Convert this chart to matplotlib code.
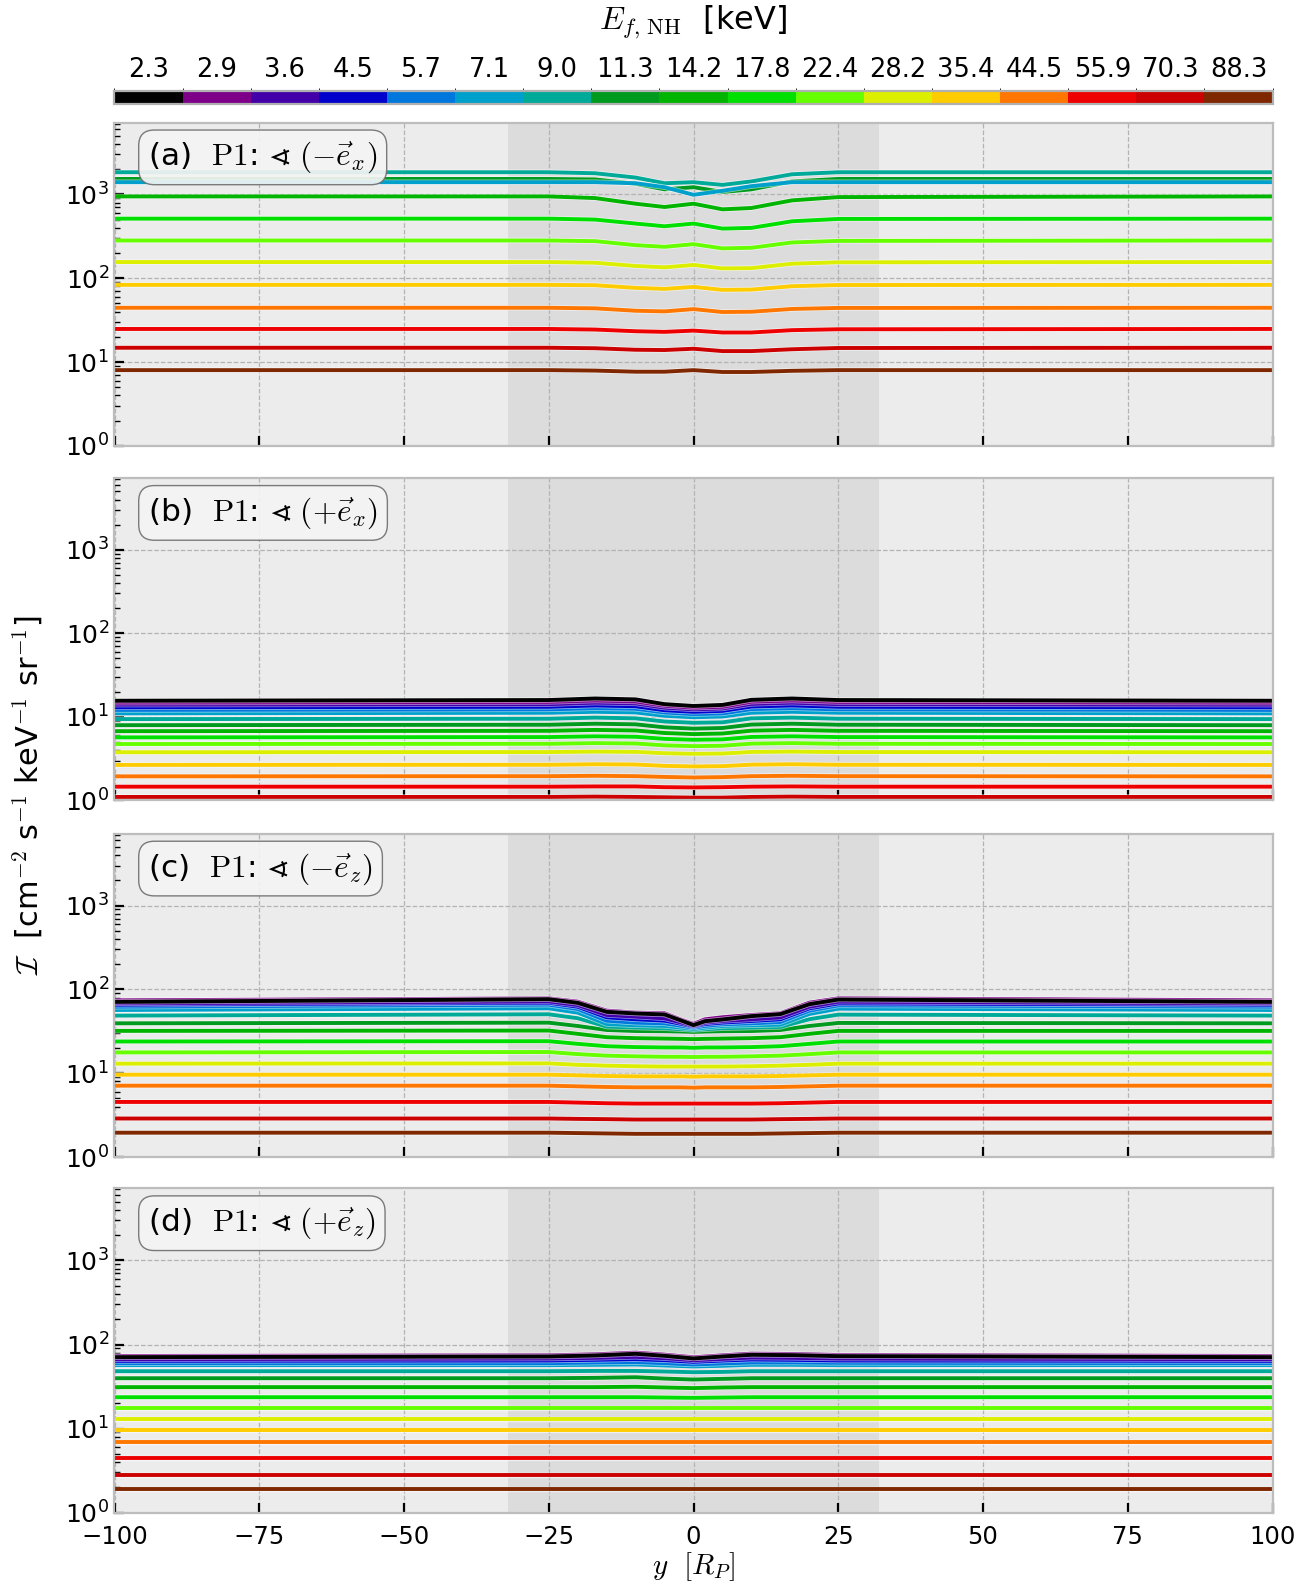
import numpy as np
import matplotlib
matplotlib.use("Agg")
import matplotlib.pyplot as plt
import matplotlib.patheffects as pe
from matplotlib.colors import ListedColormap, BoundaryNorm
from matplotlib.colorbar import ColorbarBase
from matplotlib.ticker import LogLocator, NullFormatter

# ---------------- data ----------------
ENERGIES = [2.3, 2.9, 3.6, 4.5, 5.7, 7.1, 9.0, 11.3, 14.2, 17.8,
            22.4, 28.2, 35.4, 44.5, 55.9, 70.3, 88.3]
COLORS = ["#000000", "#7e0089", "#4300a8", "#0000cc", "#0077dd", "#00a0cc",
          "#00aa99", "#009a1e", "#00b400", "#00e000", "#66ff00", "#dcef00",
          "#ffcc00", "#ff7700", "#ee0000", "#cc0000", "#7f2800"]
X_TICKS = [-100, -75, -50, -25, 0, 25, 50, 75, 100]
PANEL_LABELS = [r"(a)  $\mathrm{P1}$: $\sphericalangle\ (-\vec{e}_x)$",
                r"(b)  $\mathrm{P1}$: $\sphericalangle\ (+\vec{e}_x)$",
                r"(c)  $\mathrm{P1}$: $\sphericalangle\ (-\vec{e}_z)$",
                r"(d)  $\mathrm{P1}$: $\sphericalangle\ (+\vec{e}_z)$"]
NAN = float("nan")

Y_A = [-100, -25, -17, -10, -5, 0, 5, 10, 17, 25, 100]
I_A = [
    [NAN] * 11,
    [NAN] * 11,
    [NAN] * 11,
    [NAN] * 11,
    [NAN] * 11,
    [1400, 1400, 1400, 1360, 1220, 990, 1105, 1256, 1400, 1400, 1400],
    [1840, 1840, 1790, 1590, 1360, 1400, 1300, 1430, 1740, 1840, 1840],
    [1530, 1530, 1510, 1340, 1150, 1220, 1070, 1150, 1430, 1530, 1530],
    [947, 947, 905, 775, 708, 775, 664, 689, 849, 930, 947],
    [514, 514, 501, 449, 417, 449, 391, 399, 478, 510, 514],
    [282, 282, 277, 248, 237, 255, 227, 231, 267, 279, 282],
    [156, 156, 153, 140, 135, 144, 131, 132, 149, 155, 156],
    [83.3, 83.3, 82.5, 76.7, 74.6, 78.8, 72.6, 73.2, 80.3, 83.0, 83.3],
    [44.4, 44.4, 43.7, 40.9, 40.2, 42.8, 39.5, 39.8, 43.0, 44.2, 44.4],
    [24.8, 24.8, 24.4, 23.3, 22.9, 23.7, 22.5, 22.5, 24.0, 24.6, 24.8],
    [14.8, 14.8, 14.6, 14.0, 13.9, 14.4, 13.5, 13.5, 14.2, 14.7, 14.8],
    [8.0, 8.0, 7.9, 7.66, 7.66, 8.0, 7.6, 7.6, 7.85, 8.0, 8.0],
]

Y_B = [-100, -25, -17, -10, -5, 0, 5, 10, 17, 25, 100]
I_B = [
    [15.6, 15.9, 16.6, 16.2, 14.2, 13.5, 13.9, 16.0, 16.6, 15.9, 15.6],
    [14.8, 15.1, 15.7, 15.3, 13.6, 12.9, 13.2, 15.2, 15.7, 15.1, 14.8],
    [14.0, 14.2, 14.8, 14.5, 12.9, 12.3, 12.6, 14.3, 14.8, 14.2, 14.0],
    [13.0, 13.2, 13.7, 13.4, 12.0, 11.5, 11.8, 13.3, 13.7, 13.2, 13.0],
    [12.1, 12.3, 12.7, 12.5, 11.3, 10.8, 11.0, 12.4, 12.7, 12.3, 12.1],
    [11.0, 11.2, 11.5, 11.3, 10.3, 9.9, 10.1, 11.2, 11.5, 11.2, 11.0],
    [9.4, 9.5, 9.8, 9.6, 8.8, 8.5, 8.6, 9.6, 9.8, 9.5, 9.4],
    [7.95, 8.05, 8.28, 8.14, 7.50, 7.23, 7.36, 8.09, 8.28, 8.05, 7.95],
    [6.74, 6.81, 6.98, 6.87, 6.41, 6.22, 6.32, 6.84, 6.98, 6.81, 6.74],
    [5.68, 5.73, 5.85, 5.78, 5.45, 5.32, 5.38, 5.75, 5.85, 5.73, 5.68],
    [4.73, 4.76, 4.85, 4.80, 4.56, 4.46, 4.51, 4.78, 4.85, 4.76, 4.73],
    [3.77, 3.79, 3.84, 3.81, 3.67, 3.61, 3.64, 3.80, 3.84, 3.79, 3.77],
    [2.66, 2.67, 2.71, 2.69, 2.59, 2.55, 2.57, 2.68, 2.71, 2.67, 2.66],
    [1.94, 1.95, 1.97, 1.95, 1.91, 1.88, 1.90, 1.95, 1.97, 1.95, 1.94],
    [1.46, 1.46, 1.47, 1.47, 1.44, 1.43, 1.44, 1.46, 1.47, 1.46, 1.46],
    [1.10, 1.10, 1.11, 1.10, 1.09, 1.08, 1.08, 1.10, 1.11, 1.10, 1.10],
    [0.80, 0.80, 0.80, 0.80, 0.80, 0.80, 0.80, 0.80, 0.80, 0.80, 0.80],
]

Y_C = [-100, -25, -20, -15, -10, -5, -2, 0, 2, 5, 10, 15, 20, 25, 100]
I_C = [
    [71.0, 76.4, 69.1, 54.0, 51.6, 50.2, 42.2, 37.5, 41.8, 43.8, 48.0, 50.7, 66.6, 75.7, 71.0],
    [74.0, 78.2, 71.4, 55.8, 52.8, 51.9, 43.2, 38.7, 44.0, 46.5, 49.5, 51.9, 69.4, 78.2, 74.0],
    [68.2, 72.0, 65.2, 49.6, 47.4, 45.2, 40.2, 36.7, 40.2, 42.1, 44.0, 46.5, 62.3, 71.4, 68.2],
    [65.7, 69.4, 62.2, 46.5, 44.0, 42.4, 38.7, 36.0, 38.7, 40.2, 42.0, 44.0, 59.4, 68.1, 65.7],
    [62.2, 65.7, 58.4, 42.4, 40.1, 39.4, 36.7, 35.0, 36.7, 38.4, 39.4, 40.9, 55.8, 64.5, 62.2],
    [56.8, 59.5, 52.8, 38.7, 37.3, 36.7, 35.0, 33.8, 35.0, 36.7, 37.3, 38.0, 50.9, 58.9, 56.8],
    [48.7, 50.5, 45.3, 36.0, 35.1, 34.4, 33.5, 32.9, 33.5, 34.4, 35.1, 35.7, 44.1, 50.0, 48.7],
    [39.4, 40.1, 36.6, 32.8, 31.9, 31.7, 31.4, 31.1, 31.4, 31.7, 31.9, 32.8, 36.6, 39.8, 39.4],
    [32.0, 32.3, 29.5, 26.9, 26.2, 25.9, 25.7, 25.5, 25.7, 25.9, 26.2, 26.9, 29.5, 32.0, 32.0],
    [23.9, 24.1, 22.4, 21.0, 20.5, 20.3, 20.3, 20.1, 20.3, 20.3, 20.5, 21.0, 22.4, 23.9, 23.9],
    [17.7, 17.9, 16.9, 16.2, 15.9, 15.7, 15.7, 15.6, 15.7, 15.7, 15.9, 16.2, 16.9, 17.7, 17.7],
    [13.0, 13.1, 12.6, 12.3, 12.1, 12.0, 12.0, 12.0, 12.0, 12.0, 12.1, 12.3, 12.6, 13.0, 13.0],
    [9.60, 9.60, 9.43, 9.26, 9.17, 9.17, 9.17, 9.09, 9.17, 9.17, 9.17, 9.26, 9.43, 9.60, 9.60],
    [7.10, 7.10, 6.97, 6.85, 6.78, 6.78, 6.78, 6.72, 6.78, 6.78, 6.78, 6.85, 6.97, 7.10, 7.10],
    [4.54, 4.54, 4.46, 4.38, 4.34, 4.34, 4.34, 4.34, 4.34, 4.34, 4.34, 4.38, 4.46, 4.54, 4.54],
    [2.88, 2.88, 2.85, 2.83, 2.80, 2.80, 2.80, 2.80, 2.80, 2.80, 2.80, 2.83, 2.85, 2.88, 2.88],
    [1.95, 1.95, 1.93, 1.91, 1.89, 1.89, 1.89, 1.89, 1.89, 1.89, 1.89, 1.91, 1.93, 1.95, 1.95],
]

Y_D = [-100, -25, -17, -10, -5, 0, 5, 10, 17, 25, 100]
I_D = [
    [70.7, 72.0, 74.0, 77.5, 73.3, 68.2, 72.0, 75.4, 74.7, 72.7, 70.7],
    [73.0, 74.3, 76.4, 80.0, 75.7, 70.4, 74.3, 77.8, 77.1, 75.0, 73.0],
    [66.9, 68.1, 69.4, 71.3, 68.8, 65.1, 67.5, 70.0, 69.4, 68.1, 66.9],
    [63.9, 64.5, 65.7, 66.9, 65.1, 62.2, 64.5, 66.3, 65.7, 64.5, 63.9],
    [60.0, 60.0, 61.1, 61.7, 60.0, 57.8, 59.5, 61.1, 61.1, 60.6, 60.0],
    [56.8, 56.8, 57.3, 57.8, 56.3, 54.8, 55.8, 57.3, 57.3, 56.8, 56.8],
    [48.1, 48.1, 48.5, 48.5, 47.7, 46.8, 47.2, 48.1, 48.1, 48.1, 48.1],
    [39.7, 39.7, 40.1, 40.8, 39.3, 38.3, 39.0, 39.7, 39.7, 39.7, 39.7],
    [31.1, 31.1, 31.1, 31.4, 30.8, 30.3, 30.8, 31.1, 31.1, 31.1, 31.1],
    [23.6, 23.6, 23.6, 23.6, 23.4, 23.2, 23.4, 23.6, 23.6, 23.6, 23.6],
    [17.5, 17.5, 17.5, 17.5, 17.5, 17.5, 17.5, 17.5, 17.5, 17.5, 17.5],
    [12.9, 12.9, 12.9, 12.9, 12.9, 12.9, 12.9, 12.9, 12.9, 12.9, 12.9],
    [9.64, 9.64, 9.64, 9.64, 9.64, 9.64, 9.64, 9.64, 9.64, 9.64, 9.64],
    [7.00, 7.00, 7.00, 7.00, 7.00, 7.00, 7.00, 7.00, 7.00, 7.00, 7.00],
    [4.52, 4.52, 4.52, 4.52, 4.52, 4.52, 4.52, 4.52, 4.52, 4.52, 4.52],
    [2.83, 2.83, 2.83, 2.83, 2.83, 2.83, 2.83, 2.83, 2.83, 2.83, 2.83],
    [1.91, 1.91, 1.91, 1.91, 1.91, 1.91, 1.91, 1.91, 1.91, 1.91, 1.91],
]

PANELS = [(Y_A, I_A), (Y_B, I_B), (Y_C, I_C), (Y_D, I_D)]

# ---------------- layout ----------------
W, H = 1312, 1589
fig = plt.figure(figsize=(W / 100, H / 100), dpi=100)


def fx(px):
    return px / W


def fy(py):
    return 1 - py / H


L, R = 114.5, 1272.5
panel_px = [(122.6, 445.8), (478.2, 800.4), (833.8, 1157.0), (1188.4, 1512.6)]

stroke = [pe.Stroke(linewidth=3.9, foreground="white", alpha=0.55), pe.Normal()]

for k, ((top, bot), (ys, data)) in enumerate(zip(panel_px, PANELS)):
    ax = fig.add_axes([fx(L), fy(bot), fx(R - L), (bot - top) / H])
    ax.set_facecolor("#ececec")
    ax.axvspan(-32, 32, color="#dcdcdc", lw=0, zorder=0)
    ax.set_axisbelow(True)
    ax.grid(True, which="major", ls="--", color="#b3b3b3", lw=0.9)
    for i in range(len(ENERGIES) - 1, -1, -1):
        ax.plot(ys, data[i], color=COLORS[i], lw=2.8, zorder=2 + (len(ENERGIES) - i) * 0.01,
                path_effects=stroke, solid_capstyle="butt", solid_joinstyle="round")
    ax.set_yscale("log")
    ax.set_xlim(-100, 100)
    ax.set_ylim(1, 7200)
    ax.set_xticks(X_TICKS)
    ax.yaxis.set_major_locator(LogLocator(base=10, numticks=10))
    ax.yaxis.set_minor_locator(LogLocator(base=10, subs=np.arange(2, 10), numticks=20))
    ax.yaxis.set_minor_formatter(NullFormatter())
    ax.tick_params(axis="x", direction="in", length=7, width=1.6, color="k",
                   labelsize=17.5, pad=9, bottom=True, top=False,
                   labelbottom=(k == 3))
    ax.tick_params(axis="y", which="major", direction="in", length=7, width=1.6,
                   color="k", labelsize=18, left=True, right=False, pad=4)
    ax.tick_params(axis="y", which="minor", direction="in", length=4, width=1.0,
                   color="k", left=True, right=False)
    for s in ax.spines.values():
        s.set_color("#bdbdbd")
        s.set_linewidth(1.6)
    ax.text(0.029, 0.948, PANEL_LABELS[k], transform=ax.transAxes, fontsize=22.5,
            va="top", ha="left", math_fontfamily="cm", zorder=10,
            bbox=dict(boxstyle="round,pad=0.3,rounding_size=0.5", fc="#f4f4f4",
                      ec="#707070", lw=1.0, alpha=0.92))
    if k == 3:
        ax.set_xlabel(r"$y\ \ [R_P]$", fontsize=21, math_fontfamily="cm", labelpad=1)

# y label
fig.text(fx(28), fy(795), r"$\mathcal{I}$  [cm$^{-2}$ s$^{-1}$ keV$^{-1}$ sr$^{-1}$]",
         rotation=90, va="center", ha="center", fontsize=22, math_fontfamily="cm")

# colour bar
cax = fig.add_axes([fx(L), fy(104.4), fx(R - L), 13.2 / H])
cmap = ListedColormap(COLORS)
norm = BoundaryNorm(np.arange(len(ENERGIES) + 1), len(ENERGIES))
cb = ColorbarBase(cax, cmap=cmap, norm=norm, orientation="horizontal",
                  ticklocation="top")
cb.set_ticks(np.arange(len(ENERGIES)) + 0.5)
cb.set_ticklabels([f"{e:.1f}" for e in ENERGIES])
cax.tick_params(length=0, labelsize=18.5, pad=6)
cb.outline.set_edgecolor("#b0b0b0")
cb.outline.set_linewidth(1.6)
fig.text(fx(693.5), fy(22), r"$E_{f,\,\mathrm{NH}}$  [keV]", ha="center", va="center",
         fontsize=23, math_fontfamily="cm")

fig.savefig("out.png", dpi=100)
